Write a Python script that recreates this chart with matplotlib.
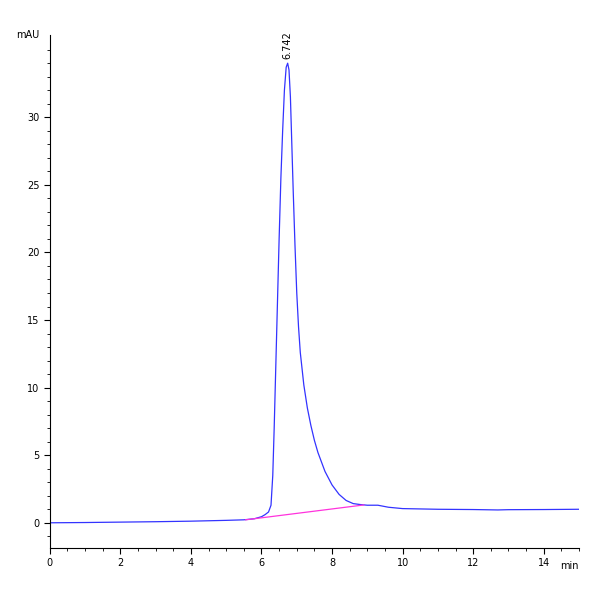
import numpy as np
from matplotlib import pyplot as plt

# chromatogram trace
time_min = [0, 1, 2, 3, 4, 5, 5.5, 5.8, 6.0, 6.1, 6.2, 6.27, 6.32, 6.36, 6.4, 6.45, 6.5,
            6.55, 6.6, 6.65, 6.7, 6.742, 6.78, 6.82, 6.86, 6.9, 6.95, 7.0, 7.05, 7.1,
            7.2, 7.3, 7.4, 7.5, 7.6, 7.8, 8.0, 8.2, 8.4, 8.6, 8.8, 9.0, 9.3, 9.6, 10,
            11, 12, 12.7, 13, 14, 15]
signal_mau = [0, 0.02, 0.05, 0.08, 0.12, 0.18, 0.22, 0.3, 0.45, 0.6, 0.8, 1.3, 3.5, 7,
              11, 16, 21, 25.5, 29, 32, 33.7, 34.0, 33.5, 31.5, 28, 24.5, 20.5, 17, 14.5,
              12.6, 10.2, 8.5, 7.2, 6.1, 5.2, 3.8, 2.8, 2.1, 1.65, 1.42, 1.35, 1.3, 1.3,
              1.15, 1.05, 1.0, 0.98, 0.95, 0.97, 0.98, 1.0]
base_t = [5.55, 8.9]
base_y = [0.22, 1.32]
peak_t = 6.742
peak_y = 34.0

fig = plt.figure(figsize=(6, 6), dpi=100)
ax = fig.add_axes([0.083, 0.087, 0.882, 0.855])
ax.plot(time_min, signal_mau, color='#3333ff', lw=0.9)
ax.plot(base_t, base_y, color='#ff33dd', lw=0.9)
ax.text(peak_t, peak_y + 0.3, f'{peak_t:.3f}', rotation=90, ha='center', va='bottom', fontsize=7)

ax.set_xlim(0, 15)
ax.set_ylim(-1.85, 36.1)
ax.set_xticks(range(0, 15, 2))
ax.set_xticks(np.arange(0, 15.01, 0.5), minor=True)
ax.set_yticks(range(0, 31, 5))
ax.set_yticks(range(-1, 36), minor=True)
for s in ['top', 'right']:
    ax.spines[s].set_visible(False)
ax.tick_params(labelsize=7, length=4, width=0.8)
ax.tick_params(which='minor', length=2.5)
ax.text(-0.02, 1.0, 'mAU', transform=ax.transAxes, ha='right', va='center', fontsize=7)
ax.text(1.0, -0.025, 'min', transform=ax.transAxes, ha='right', va='top', fontsize=7)
plt.savefig('out.png')
